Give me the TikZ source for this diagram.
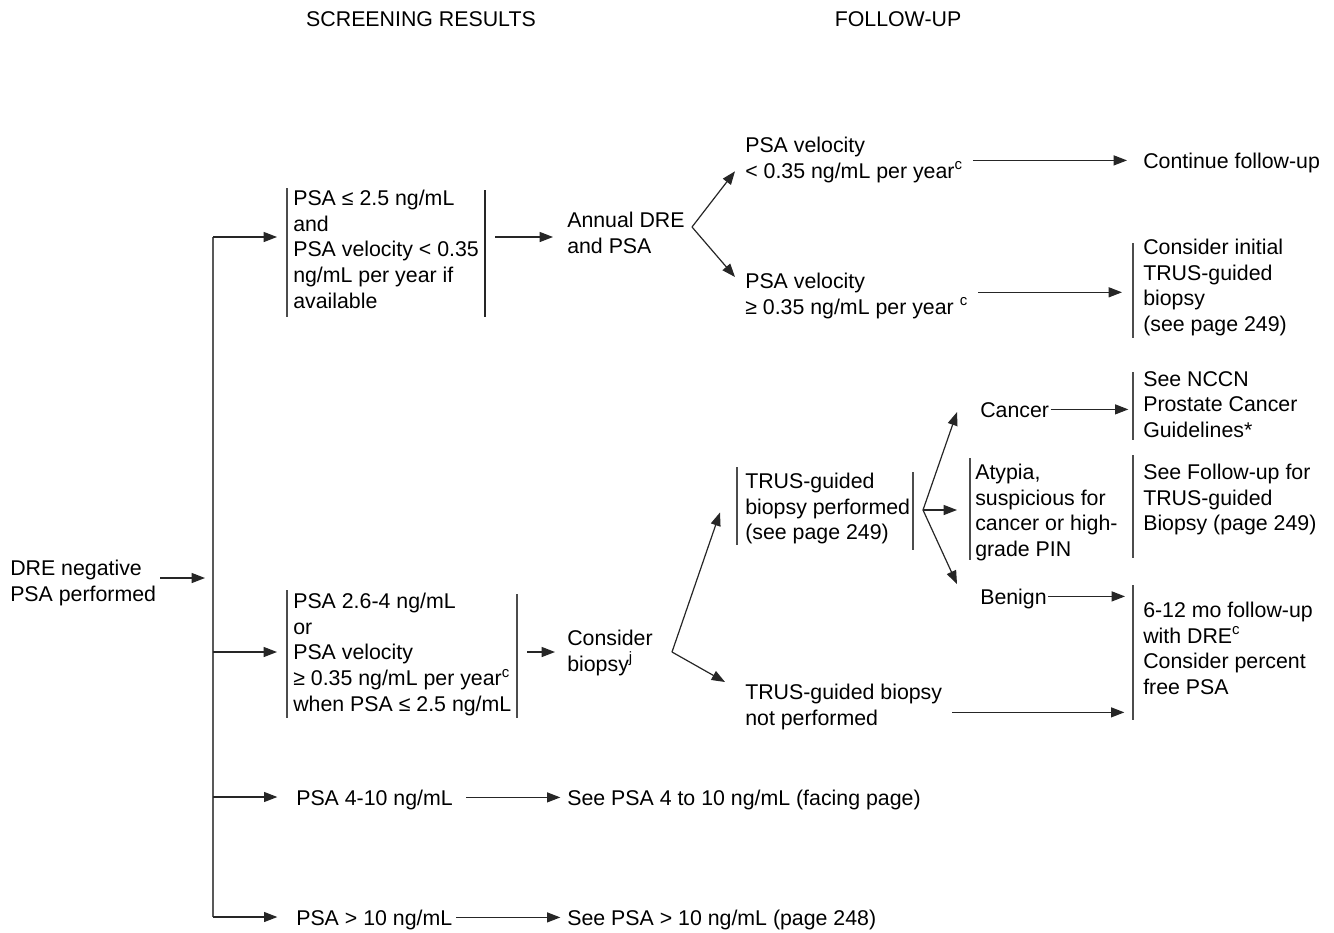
\documentclass[tikz,border=0pt]{standalone}
\usepackage{fontspec}
\setmainfont{Liberation Sans}
\usetikzlibrary{arrows.meta}
\newcommand\fs{\fontsize{16}{19.2}\selectfont}
\begin{document}
\begin{tikzpicture}[x=0.75pt,y=-0.75pt,
  txt/.style={anchor=north west, inner sep=0pt, align=left, font=\fs, text=black, execute at begin node=\strut},
  ln/.style={draw=black!85, line width=0.9pt},
  arr/.style={ln, -{Triangle[length=10pt,width=7.5pt]}},
  bar/.style={draw=black!70, line width=0.9pt},
  tbar/.style={draw=black!85, line width=1.8pt}]
\useasboundingbox (0,0) rectangle (1334,932);
% headers
\node[txt, anchor=north] (h1) at (421,8) {SCREENING RESULTS};
\node[txt, anchor=north] (h2) at (898,8) {FOLLOW-UP};
% nodes
\node[txt] (dre) at (10,560) {DRE negative\\PSA performed};
\node[txt] (b1) at (293,190) {PSA ≤ 2.5 ng/mL\\and\\PSA velocity < 0.35\\ng/mL per year if\\available};
\node[txt] (ann) at (567,212) {Annual DRE\\and PSA};
\node[txt] (v1) at (745,137) {PSA velocity\\< 0.35 ng/mL per year\textsuperscript{c}};
\node[txt] (cont) at (1143,150) {Continue follow-up};
\node[txt] (v2) at (745,273) {PSA velocity\\≥ 0.35 ng/mL per year \textsuperscript{c}};
\node[txt] (ci) at (1143,239) {Consider initial\\TRUS-guided\\biopsy\\(see page 249)};
\node[txt] (b2) at (293,593) {PSA 2.6-4 ng/mL\\or\\PSA velocity\\≥ 0.35 ng/mL per year\textsuperscript{c}\\when PSA ≤ 2.5 ng/mL};
\node[txt] (cb) at (567,630) {Consider\\biopsy\textsuperscript{j}};
\node[txt] (tp) at (745,473) {TRUS-guided\\biopsy performed\\(see page 249)};
\node[txt] (can) at (980,399) {Cancer};
\node[txt] (nccn) at (1143,371) {See NCCN\\Prostate Cancer\\Guidelines*};
\node[txt] (aty) at (975,464) {Atypia,\\suspicious for\\cancer or high-\\grade PIN};
\node[txt] (sfu) at (1143,464) {See Follow-up for\\TRUS-guided\\Biopsy (page 249)};
\node[txt] (ben) at (980,586) {Benign};
\node[txt] (fu) at (1143,602) {6-12 mo follow-up\\with DRE\textsuperscript{c}\\Consider percent\\free PSA};
\node[txt] (tnp) at (745,684) {TRUS-guided biopsy\\not performed};
\node[txt] (p410) at (296,787) {PSA 4-10 ng/mL};
\node[txt] (s410) at (567,787) {See PSA 4 to 10 ng/mL (facing page)};
\node[txt] (p10) at (296,907) {PSA > 10 ng/mL};
\node[txt] (s10) at (567,907) {See PSA > 10 ng/mL (page 248)};
% bars
\draw[bar] (287,188) -- (287,317);
\draw[tbar] (485,190) -- (485,317);
\draw[bar] (1133,243) -- (1133,338);
\draw[bar] (287,590) -- (287,718);
\draw[bar] (517,594) -- (517,718);
\draw[bar] (737,467) -- (737,545);
\draw[bar] (913,472) -- (913,550);
\draw[bar] (1133,372) -- (1133,440);
\draw[bar] (970,458) -- (970,560);
\draw[bar] (1133,455) -- (1133,558);
\draw[bar] (1133,585) -- (1133,720);
% trunk
\coordinate (tj) at (213,578);
\coordinate (t1) at (213,237);
\coordinate (t2) at (213,652);
\coordinate (t3) at (213,797);
\coordinate (t4) at (213,917);
\draw[ln, draw=black!65] (t1) -- (t4);
\draw[arr, shorten <=3pt, shorten >=6pt] (dre.east |- tj) -- (tj);
\draw[arr, shorten >=12pt] (t1) -- (t1 -| b1.west);
\draw[arr, shorten >=12pt] (t2) -- (t2 -| b2.west);
\draw[arr, shorten >=14pt] (t3) -- (t3 -| p410.west);
\draw[arr, shorten >=14pt] (t4) -- (t4 -| p10.west);
% top branch
\coordinate (b1r) at (485,237);
\draw[arr, shorten <=7.5pt, shorten >=10.5pt] (b1r) -- (b1r -| ann.west);
\coordinate (as) at (692,227);
\draw[arr] (as) -- ([shift={(-10,-15)}]v1.south west);
\draw[arr] (as) -- ([shift={(-10,4)}]v2.north west);
\coordinate (v1e) at ([yshift=2pt]cont.west);
\draw[arr, shorten <=7.5pt, shorten >=12pt] (v1e -| v1.east) -- (v1e);
\coordinate (v2e) at ([yshift=4pt]v2.east);
\draw[arr, shorten <=7.5pt, shorten >=15.75pt] (v2e) -- (v2e -| ci.west);
% middle branch
\coordinate (b2r) at (517,652);
\draw[arr, shorten <=7.5pt, shorten >=9pt] (b2r) -- (b2r -| cb.west);
\coordinate (cs) at (672,652);
\draw[arr] (cs) -- ([shift={(-25,2)}]tp.west);
\draw[arr] (cs) -- ([shift={(-20,-2)}]tnp.north west);
\coordinate (ts) at (923,510);
\draw[arr] (ts) -- ([shift={(-23,0)}]can.west);
\draw[arr, shorten >=13.5pt] (ts) -- (ts -| aty.west);
\draw[arr] (ts) -- ([shift={(-23,-15)}]ben.west);
\coordinate (cae) at ([yshift=2pt]can.east);
\draw[arr, shorten <=1pt, shorten >=11pt] (cae) -- (cae -| nccn.west);
\coordinate (bee) at ([yshift=2pt]ben.east);
\draw[arr, shorten <=1pt, shorten >=13.5pt] (bee) -- (bee -| fu.west);
\coordinate (tne) at ([yshift=-2.8pt]tnp.east);
\draw[arr, shorten <=7.5pt, shorten >=14pt] (tne) -- (tne -| fu.west);
% bottom branches
\coordinate (p4e) at ([yshift=2pt]p410.east);
\draw[arr, shorten <=10pt, shorten >=5pt] (p4e) -- (p4e -| s410.west);
\coordinate (p1e) at ([yshift=2pt]p10.east);
\draw[arr, shorten <=3pt, shorten >=5pt] (p1e) -- (p1e -| s10.west);
\end{tikzpicture}
\end{document}
